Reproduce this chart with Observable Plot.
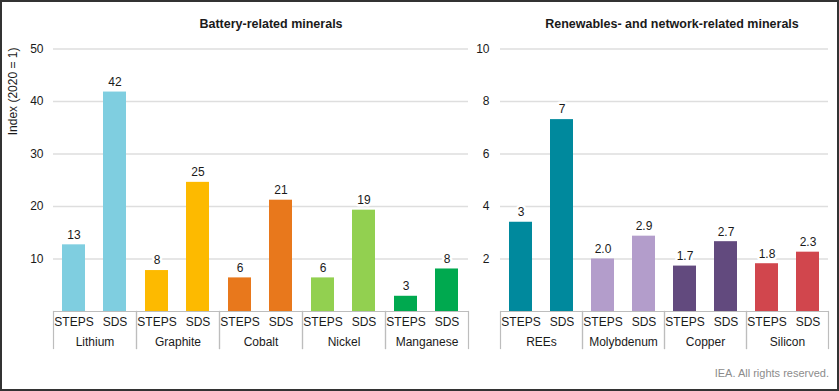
<!DOCTYPE html>
<html>
<head>
<meta charset="utf-8">
<script src="https://cdn.jsdelivr.net/npm/d3@7"></script>
<script src="https://cdn.jsdelivr.net/npm/@observablehq/plot@0.6"></script>
<style>
  html, body { margin: 0; padding: 0; background: #fff; }
  #chart { position: relative; width: 839px; height: 391px; overflow: hidden; background: #fff;
           font-family: "Liberation Sans", Arial, sans-serif; }
  #chart svg { position: absolute; top: 0; }
  .title { position: absolute; top: 17px; font-weight: bold; font-size: 12.5px; color: #1a1a1a;
           transform: translateX(-50%); white-space: nowrap; }
  .caption { position: absolute; right: 10px; top: 367px; font-size: 11px; color: #8c8c8c; white-space: nowrap; }
  .border { position: absolute; left: 0; top: 0; width: 839px; height: 391px; box-sizing: border-box;
            border: 2px solid #333; pointer-events: none; }
</style>
</head>
<body>
<div id="chart"></div>
<script>
// ---- data ----
const scenarios = ["STEPS", "SDS"];

const batteryTitle = "Battery-related minerals";
const batteryMinerals = ["Lithium", "Graphite", "Cobalt", "Nickel", "Manganese"];
const batterySTEPS = [12.7, 7.8, 6.4, 6.4, 2.9];
const batterySDS = [41.8, 24.6, 21.2, 19.3, 8.1];
const batteryLabelsSTEPS = ["13", "8", "6", "6", "3"];
const batteryLabelsSDS = ["42", "25", "21", "19", "8"];
const batteryTicks = [10, 20, 30, 40, 50];

const renewTitle = "Renewables- and network-related minerals";
const renewMinerals = ["REEs", "Molybdenum", "Copper", "Silicon"];
const renewSTEPS = [3.4, 2.0, 1.73, 1.82];
const renewSDS = [7.31, 2.87, 2.66, 2.26];
const renewLabelsSTEPS = ["3", "2.0", "1.7", "1.8"];
const renewLabelsSDS = ["7", "2.9", "2.7", "2.3"];
const renewTicks = [2, 4, 6, 8, 10];

const yLabel = "Index (2020 = 1)";
const caption = "IEA. All rights reserved.";

// ---- styles ----
const batteryColors = ["#7fcee0", "#fdba00", "#e8781c", "#92d050", "#00a94f"];
const renewColors = ["#00899d", "#b39dcb", "#624a7e", "#d1464d"];

function buildRows(minerals, steps, sds, lSteps, lSds) {
  return minerals.flatMap((m, i) => [
    {mineral: m, scenario: scenarios[0], value: steps[i], label: lSteps[i]},
    {mineral: m, scenario: scenarios[1], value: sds[i], label: lSds[i]}
  ]);
}

function panel({minerals, rows, colors, ticks, width, marginLeft, marginRight, tickPadding, withYLabel}) {
  const sepColor = "#bdbdbd";
  const marks = [
    Plot.gridY(ticks, {stroke: "#dedede", strokeOpacity: 1, strokeWidth: 1.3}),
    Plot.barY(rows, {fx: "mineral", x: "scenario", y: "value", fill: "mineral"}),
    Plot.ruleY([0], {stroke: sepColor, strokeWidth: 1.2}),
    Plot.frame({anchor: "left", stroke: sepColor, strokeWidth: 1.2, insetTop: 262.5, insetBottom: -37}),
    Plot.frame({anchor: "right", stroke: sepColor, strokeWidth: 1.2, insetTop: 262.5, insetBottom: -37}),
    Plot.text(rows, {fx: "mineral", x: "scenario", y: "value", text: "label", dy: -10, lineAnchor: "middle",
      fill: "#1a1a1a", stroke: "white", strokeWidth: 5, paintOrder: "stroke", fontSize: 12}),
    Plot.axisY({ticks, tickSize: 0, tickPadding, label: null, fontSize: 12, fill: "#1a1a1a"}),
    Plot.axisX({tickSize: 0, tickPadding: 5.5, label: null, fontSize: 12, fill: "#1a1a1a"}),
    Plot.axisFx({anchor: "bottom", tickSize: 0, tickPadding: 26, label: null, fontSize: 12, fill: "#1a1a1a"})
  ];
  if (withYLabel) {
    marks.push(Plot.text([yLabel], {fx: [minerals[0]], text: d => d, frameAnchor: "top-left",
      dx: -40, dy: -1.5, rotate: -90, textAnchor: "end", lineAnchor: "middle", fontSize: 12, fill: "#1a1a1a"}));
  }
  return Plot.plot({
    width, height: 391,
    marginLeft, marginRight, marginTop: 48.5, marginBottom: 80,
    style: {fontFamily: '"Liberation Sans", Arial, sans-serif', fontSize: "12px", background: "transparent", overflow: "visible"},
    fx: {domain: minerals, padding: 0, label: null},
    x: {domain: scenarios, paddingInner: 0.43, paddingOuter: 0.215, label: null},
    y: {domain: [0, ticks[ticks.length - 1]], label: null},
    color: {domain: minerals, range: colors},
    marks
  });
}

const chart = document.getElementById("chart");

const left = panel({
  minerals: batteryMinerals,
  rows: buildRows(batteryMinerals, batterySTEPS, batterySDS, batteryLabelsSTEPS, batteryLabelsSDS),
  colors: batteryColors, ticks: batteryTicks,
  width: 468, marginLeft: 53, marginRight: 0, tickPadding: 10, withYLabel: true
});
left.style.left = "0px";
chart.appendChild(left);

const right = panel({
  minerals: renewMinerals,
  rows: buildRows(renewMinerals, renewSTEPS, renewSDS, renewLabelsSTEPS, renewLabelsSDS),
  colors: renewColors, ticks: renewTicks,
  width: 371, marginLeft: 31, marginRight: 10, tickPadding: 11, withYLabel: false
});
right.style.left = "468px";
chart.appendChild(right);

function addDiv(cls, text, left) {
  const d = document.createElement("div");
  d.className = cls;
  d.textContent = text;
  if (left != null) d.style.left = left + "px";
  chart.appendChild(d);
}
addDiv("title", batteryTitle, 271);
addDiv("title", renewTitle, 672);
addDiv("caption", caption);
addDiv("border", "");
</script>
</body>
</html>
